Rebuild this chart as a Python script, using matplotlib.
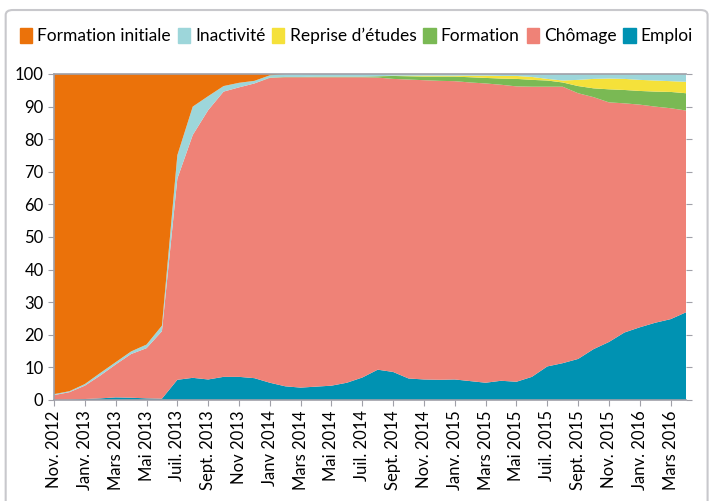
import numpy as np
import matplotlib
matplotlib.use("Agg")
import matplotlib.pyplot as plt
from matplotlib.patches import Rectangle, FancyBboxPatch

plt.rcParams['font.family'] = ['Lato', 'DejaVu Sans']

# monthly values, Nov. 2012 -> Apr. 2016 (42 months), in %
emploi = [0, 0.1, 0.3, 0.5, 0.8, 0.7, 0.5, 0.4, 6.2, 6.8, 6.3, 7.1, 7.1, 6.7,
          5.3, 4.2, 3.8, 4.1, 4.4, 5.3, 6.9, 9.3, 8.6, 6.6, 6.3, 6.2, 6.3, 5.8,
          5.3, 5.9, 5.6, 7.1, 10.3, 11.3, 12.6, 15.6, 17.8, 20.7, 22.3, 23.7, 24.8, 26.9]
chomage = [1.5, 2.3, 4.1, 7.0, 10.1, 13.4, 15.4, 20.7, 61.7, 74.5, 82.6, 87.5, 88.8, 90.4,
           93.5, 94.8, 95.2, 94.9, 94.6, 93.7, 92.1, 89.6, 89.9, 91.7, 91.8, 91.7, 91.5, 91.6,
           91.8, 90.8, 90.6, 89.0, 85.8, 84.8, 81.5, 77.3, 73.5, 70.3, 68.3, 66.3, 64.7, 61.9]
formation = [0, 0, 0, 0, 0, 0, 0, 0, 0, 0, 0, 0, 0, 0,
             0.1, 0.1, 0.1, 0.2, 0.2, 0.2, 0.2, 0.4, 0.9, 1.0, 1.1, 1.3, 1.4, 1.6,
             1.7, 1.9, 2.3, 2.1, 1.9, 1.3, 2.2, 2.7, 4.0, 4.1, 4.2, 4.6, 5.0, 5.3]
reprise = [0, 0, 0, 0, 0, 0, 0, 0, 0, 0, 0, 0, 0, 0,
           0, 0, 0, 0, 0, 0, 0, 0, 0.1, 0.2, 0.3, 0.3, 0.3, 0.5,
           0.7, 0.8, 0.9, 0.9, 0.5, 0.6, 1.9, 2.9, 3.3, 3.4, 3.4, 3.4, 3.3, 3.5]
inactivite = [0.3, 0.3, 0.5, 0.8, 0.7, 0.8, 1.1, 1.7, 7.2, 8.7, 4.3, 1.7, 1.4, 0.8,
              0.7, 0.8, 0.8, 0.8, 0.8, 0.8, 0.8, 0.7, 0.5, 0.5, 0.5, 0.5, 0.5, 0.5,
              0.5, 0.6, 0.6, 0.9, 1.5, 2.0, 1.8, 1.5, 1.4, 1.5, 1.8, 2.0, 2.2, 2.4]
formation_initiale = [98.2, 97.3, 95.1, 91.7, 88.4, 85.1, 83.0, 77.2, 24.9, 10.0, 6.8, 3.7, 2.7, 2.1,
                      0.4, 0, 0, 0, 0, 0, 0, 0, 0, 0, 0, 0, 0, 0,
                      0, 0, 0, 0, 0, 0, 0, 0, 0, 0, 0, 0, 0, 0]

tick_labels = ["Nov. 2012", "Janv. 2013", "Mars 2013", "Mai 2013", "Juil. 2013",
               "Sept. 2013", "Nov 2013", "Janv 2014", "Mars 2014", "Mai 2014",
               "Juil. 2014", "Sept. 2014", "Nov. 2014", "Janv. 2015", "Mars 2015",
               "Mai 2015", "Juil. 2015", "Sept. 2015", "Nov. 2015", "Janv. 2016",
               "Mars 2016"]

series = [emploi, chomage, formation, reprise, inactivite, formation_initiale]
names = ["Emploi", "Chômage", "Formation", "Reprise d’études", "Inactivité", "Formation initiale"]
colors = ["#0092B2", "#EF8277", "#7AB954", "#F5E13A", "#9DD6DA", "#EB720A"]

x = np.arange(len(emploi))

fig = plt.figure(figsize=(7.09, 5.01), dpi=100)
fig.patches.append(FancyBboxPatch((0.008, -0.05), 0.99, 1.03, boxstyle="round,pad=0,rounding_size=0.01",
                                  transform=fig.transFigure, fill=False, ec="#C8C8CC", lw=1.5))
ax = fig.add_axes([0.0762, 0.2016, 0.8914, 0.6507])

polys = ax.stackplot(x, *series, colors=colors, linewidth=0)
ax.set_xlim(0, len(x) - 1)
ax.set_ylim(0, 100)
ax.set_yticks(range(0, 101, 10))
ax.set_xticks(x[::2])
ax.set_xticklabels(tick_labels, rotation=90, fontsize=12)
ax.tick_params(axis="y", labelsize=12, length=4, color="#A0A0A8", right=True, direction="out")
ax.tick_params(axis="x", length=4, color="#A0A0A8")
for s in ["left", "bottom", "top"]:
    ax.spines[s].set_color("#A0A0A8")
    ax.spines[s].set_linewidth(1.2)
ax.spines["right"].set_visible(False)

handles = [Rectangle((0, 0), 1, 1, color=c) for c in colors][::-1]
fig.legend(handles, names[::-1], loc="upper left", bbox_to_anchor=(0.018, 0.958), ncol=6,
           frameon=False, fontsize=12.5, handlelength=0.7, handleheight=0.9, handletextpad=0.3,
           columnspacing=0.4, borderaxespad=0)

fig.savefig("out.png", dpi=100)
